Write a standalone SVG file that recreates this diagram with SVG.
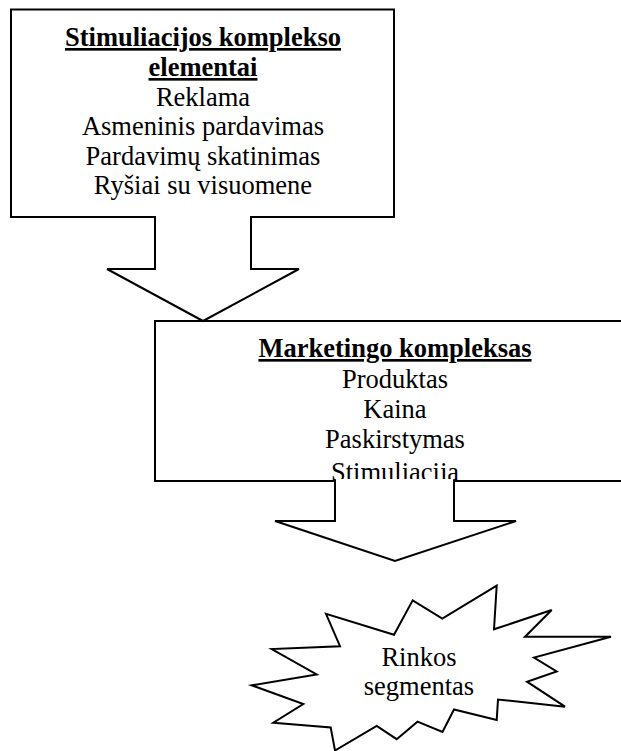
<svg xmlns="http://www.w3.org/2000/svg" width="621" height="751" viewBox="0 0 621 751">
  <style>
    .box { fill: #ffffff; stroke: #000000; stroke-width: 2; }
    .arrow-fill { fill: #ffffff; stroke: none; }
    .arrow-line { fill: none; stroke: #000000; stroke-width: 2; stroke-linejoin: miter; }
    .t { font-family: "Liberation Serif", "Times New Roman", serif; font-size: 26.5px; fill: #000000; text-anchor: middle; }
    .h { font-weight: bold; text-decoration: underline; }
  </style>
  <defs>
    <clipPath id="clip-mk">
      <rect x="156" y="323" width="478" height="157"/>
    </clipPath>
  </defs>
  <rect x="0" y="0" width="621" height="751" fill="#ffffff"/>

  <g id="node-stimuliacijos-kompleksas">
    <rect class="box" x="11" y="9.5" width="383" height="207.5"/>
    <text class="t h" x="203" y="46">Stimuliacijos komplekso</text>
    <text class="t h" x="203" y="76">elementai</text>
    <text class="t" x="203" y="105.5">Reklama</text>
    <text class="t" x="203" y="135">Asmeninis pardavimas</text>
    <text class="t" x="203" y="164.5">Pardavimų skatinimas</text>
    <text class="t" x="203" y="194">Ryšiai su visuomene</text>
  </g>

  <g id="node-marketingo-kompleksas">
    <rect class="box" x="155" y="321" width="480" height="160"/>
    <g clip-path="url(#clip-mk)">
      <text class="t h" x="395" y="357">Marketingo kompleksas</text>
      <text class="t" x="395" y="387.5">Produktas</text>
      <text class="t" x="395" y="418">Kaina</text>
      <text class="t" x="395" y="448.3">Paskirstymas</text>
      <text class="t" x="395" y="481">Stimuliacija</text>
    </g>
  </g>

  <g id="node-rinkos-segmentas">
    <polygon class="box" points="496.7,585.7 494,629.3 551.7,610 525,636.7 611,636.7 534,657.5 556.7,671.5 527,681.7 565,706.7 498,699.5 496.7,720 454,709.5 442.5,732 417.5,721.7 396.7,739.2 376.7,726 335,750.5 330.7,727.5 273.3,722.7 303.3,704 251.7,685.3 316.7,674.5 271.7,649 340,646.2 326,613.8 394,634.7 412.7,600.3 442.3,618.7"/>
    <text class="t" x="419" y="665.5">Rinkos</text>
    <text class="t" x="419" y="695">segmentas</text>
  </g>

  <g id="connectors">
    <g id="arrow-1">
      <polygon class="arrow-fill" points="156,215 156,269 107,269 203,321 299,269 250,269 250,215"/>
      <polyline class="arrow-line" points="155,217 155,269 107,269 203,321 299,269 251,269 251,217"/>
    </g>
    <g id="arrow-2">
      <polygon class="arrow-fill" points="336,479 336,521 275,521 395,561 516,521 453,521 453,479"/>
      <polyline class="arrow-line" points="335,481 335,521 275,521 395,561 516,521 454,521 454,481"/>
    </g>
  </g>
</svg>
